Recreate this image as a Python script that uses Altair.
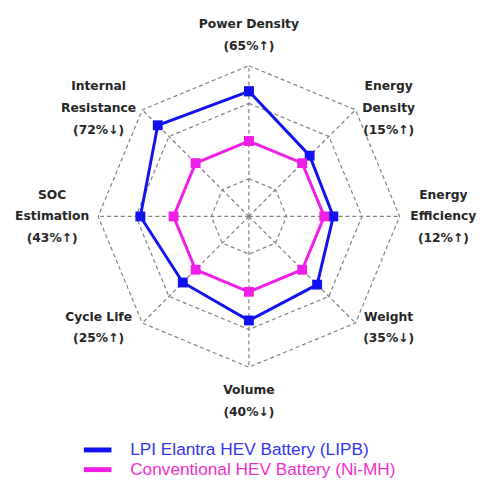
import math
import altair as alt
import pandas as pd

# ---------------- data ----------------
categories = ["Power Density", "Energy Density", "Energy Efficiency", "Weight",
              "Volume", "Cycle Life", "SOC Estimation", "Internal Resistance"]
label_lines = ["Power Density\n(65%↑)", "Energy\nDensity\n(15%↑)", "Energy\nEfficiency\n(12%↑)",
               "Weight\n(35%↓)", "Volume\n(40%↓)", "Cycle Life\n(25%↑)",
               "SOC\nEstimation\n(43%↑)", "Internal\nResistance\n(72%↓)"]
lipb = [0.83, 0.57, 0.56, 0.64, 0.69, 0.62, 0.72, 0.855]
nimh = [0.50, 0.50, 0.50, 0.50, 0.50, 0.50, 0.50, 0.50]
series_names = ["LPI Elantra HEV Battery (LIPB)", "Conventional HEV Battery (Ni-MH)"]
series_colors = ["#1212f0", "#f01ee6"]
legend_text_colors = ["#3434ee", "#f030c8"]
grid_levels = [0.25, 0.50, 0.75, 1.00]

# ---------------- layout ----------------
W, H = 469, 465
CX, CY, R = 244.5, 208, 153
LINE_H = 22
xdom = [-CX / R, (W - CX) / R]
ydom = [-(H - CY) / R, CY / R]
n = len(categories)

xs = alt.Scale(domain=xdom, nice=False, zero=False)
ys = alt.Scale(domain=ydom, nice=False, zero=False)

# series table (closed polygons)
rows = []
for s, vals in enumerate([lipb, nimh]):
    for i in range(n + 1):
        k = i % n
        rows.append({"series": series_names[s], "color": series_colors[s], "k": k,
                     "order": i, "r": vals[k], "sid": s})
series_df = pd.DataFrame(rows)

grid_rows = []
for lv in grid_levels:
    for i in range(n + 1):
        grid_rows.append({"level": lv, "k": i % n, "order": i})
grid_df = pd.DataFrame(grid_rows)

spoke_df = pd.DataFrame({"k": list(range(n))})

lab_rows = []
for k, txt in enumerate(label_lines):
    a = k * 2 * math.pi / n
    s, c = math.sin(a), math.cos(a)
    if abs(s) < 1e-6:
        lx, ly = 0.0, c * (1.205 if c > 0 else 1.225)
    elif abs(c) < 1e-6:
        lx, ly = s * (1.29 if s > 0 else 1.305), 0.0
    else:
        lx = s + (0.22 if s > 0 else -0.29)
        ly = c + (0.012 if c > 0 else -0.03)
    nlines = txt.count("\n") + 1
    ly += (nlines - 1) * (LINE_H / 2) / R   # centre the text block on the anchor
    lab_rows.append({"text": txt, "lx": lx, "ly": ly})
lab_df = pd.DataFrame(lab_rows)

leg_df = pd.DataFrame({"name": series_names, "color": series_colors,
                       "tcolor": legend_text_colors, "row": [0, 1]})

polar = dict(a=f"datum.k * 2 * PI / {n}")

grid = alt.Chart(grid_df).transform_calculate(**polar).transform_calculate(
    x="datum.level * sin(datum.a)", y="datum.level * cos(datum.a)"
).mark_line(color="#808080", strokeWidth=1.2, strokeDash=[4, 3]).encode(
    x=alt.X("x:Q", scale=xs, axis=None),
    y=alt.Y("y:Q", scale=ys, axis=None),
    detail="level:N",
    order="order:Q",
)

spokes = alt.Chart(spoke_df).transform_calculate(**polar).transform_calculate(
    x0="0", y0="0", x="sin(datum.a)", y="cos(datum.a)"
).mark_rule(color="#808080", strokeWidth=1.2, strokeDash=[4, 3]).encode(
    x=alt.X("x0:Q", scale=xs, axis=None),
    y=alt.Y("y0:Q", scale=ys, axis=None),
    x2="x:Q", y2="y:Q",
)

base = alt.Chart(series_df).transform_calculate(**polar).transform_calculate(
    x="datum.r * sin(datum.a)", y="datum.r * cos(datum.a)"
)

lines = base.mark_line(strokeWidth=3).encode(
    x=alt.X("x:Q", scale=xs, axis=None),
    y=alt.Y("y:Q", scale=ys, axis=None),
    color=alt.Color("color:N", scale=None),
    detail="series:N",
    order="order:Q",
)

points = base.mark_point(shape="square", filled=True, size=100, opacity=1).encode(
    x=alt.X("x:Q", scale=xs, axis=None),
    y=alt.Y("y:Q", scale=ys, axis=None),
    color=alt.Color("color:N", scale=None),
)

labels = alt.Chart(lab_df).mark_text(
    font="DejaVu Sans", fontWeight="bold", fontSize=12.5, color="#262626",
    lineBreak="\n", lineHeight=LINE_H, align="center", baseline="middle"
).encode(
    x=alt.X("lx:Q", scale=xs, axis=None),
    y=alt.Y("ly:Q", scale=ys, axis=None),
    text="text:N",
)

leg_base = alt.Chart(leg_df).transform_calculate(
    py="445 + datum.row * 20", px1="77", px2="105", tx="124"
)
leg_lines = leg_base.mark_rule(strokeWidth=5).encode(
    x=alt.X("px1:Q", scale=None), x2="px2:Q",
    y=alt.Y("py:Q", scale=None),
    color=alt.Color("color:N", scale=None),
)
leg_text = leg_base.mark_text(
    font="Liberation Sans", fontSize=17.5, align="left", baseline="middle"
).encode(
    x=alt.X("tx:Q", scale=None),
    y=alt.Y("py:Q", scale=None),
    text="name:N",
    color=alt.Color("tcolor:N", scale=None),
)

chart = alt.layer(grid, spokes, lines, points, labels, leg_lines, leg_text).properties(
    width=W, height=H, padding=0
).configure_view(stroke=None)

chart.save("out.html", embed_options={"renderer": "svg", "actions": False})
